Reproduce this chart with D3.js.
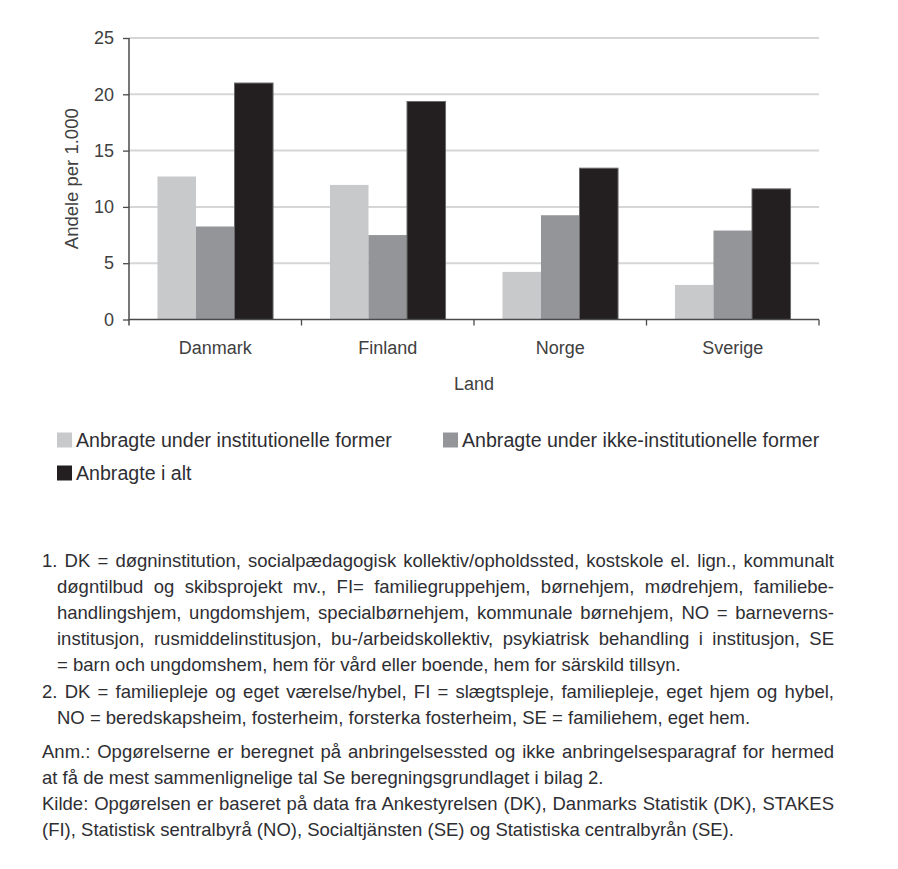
<!DOCTYPE html>
<html><head><meta charset="utf-8">
<script src="https://cdn.jsdelivr.net/npm/d3@7/dist/d3.min.js"></script>
<style>body{margin:0;background:#fff}svg{display:block}</style>
</head><body><svg id="c" width="898" height="869"></svg>
<script>
// ---- data ----
const countries = ["Danmark", "Finland", "Norge", "Sverige"];
const seriesNames = [
  "Anbragte under institutionelle former",
  "Anbragte under ikke-institutionelle former",
  "Anbragte i alt"
];
const institutional    = [12.7, 11.95, 4.23, 3.07];
const nonInstitutional = [8.26, 7.5, 9.26, 7.9];
const total            = [21.0, 19.36, 13.44, 11.6];
const yTicks = [0, 5, 10, 15, 20, 25];
const xTitle = "Land";
const yTitle = "Andele per 1.000";
const seriesColors = ["#c8c9cb", "#939598", "#231f20"];

const note1 = [
  "1. DK = døgninstitution, socialpædagogisk kollektiv/opholdssted, kostskole el. lign., kommunalt",
  "døgntilbud og skibsprojekt mv., FI= familiegruppehjem, børnehjem, mødrehjem, familiebe-",
  "handlingshjem, ungdomshjem, specialbørnehjem, kommunale børnehjem, NO = barneverns-",
  "institusjon, rusmiddelinstitusjon, bu-/arbeidskollektiv, psykiatrisk behandling i institusjon, SE",
  "= barn och ungdomshem, hem för vård eller boende, hem for särskild tillsyn."
];
const note2 = [
  "2. DK = familiepleje og eget værelse/hybel, FI = slægtspleje, familiepleje, eget hjem og hybel,",
  "NO = beredskapsheim, fosterheim, forsterka fosterheim, SE = familiehem, eget hem."
];
const anm = [
  "Anm.: Opgørelserne er beregnet på anbringelsessted og ikke anbringelsesparagraf for hermed",
  "at få de mest sammenlignelige tal Se beregningsgrundlaget i bilag 2."
];
const kilde = [
  "Kilde: Opgørelsen er baseret på data fra Ankestyrelsen (DK), Danmarks Statistik (DK), STAKES",
  "(FI), Statistisk sentralbyrå (NO), Socialtjänsten (SE) og Statistiska centralbyrån (SE)."
];

// ---- layout ----
const svg = d3.select("#c");
const pL = 129, pR = 819, pT = 38, pB = 319.5;
const seriesData = [institutional, nonInstitutional, total];

const x0 = d3.scaleBand().domain(countries).range([pL, pR])
  .paddingInner(0.33).paddingOuter(0.165);
const x1 = d3.scaleBand().domain(seriesNames).range([0, x0.bandwidth()]);
const y = d3.scaleLinear().domain([0, 25]).range([pB, pT]);
const color = d3.scaleOrdinal().domain(seriesNames).range(seriesColors);

const tickFont = "Liberation Sans, Arial, sans-serif";

// gridlines
svg.append("g").selectAll("line").data(yTicks.filter(d => d > 0)).join("line")
  .attr("x1", pL).attr("x2", pR)
  .attr("y1", d => y(d)).attr("y2", d => y(d))
  .attr("stroke", "#d6d6d6").attr("stroke-width", 2);

// bars
const rows = countries.map((c, i) => ({country: c, vals: seriesNames.map((s, j) => ({s, v: seriesData[j][i]}))}));
const g = svg.append("g").selectAll("g").data(rows).join("g")
  .attr("transform", d => `translate(${x0(d.country)},0)`);
g.selectAll("rect").data(d => d.vals).join("rect")
  .attr("x", d => x1(d.s)).attr("width", x1.bandwidth())
  .attr("y", d => y(d.v)).attr("height", d => y(0) - y(d.v))
  .attr("fill", d => color(d.s))
  .attr("stroke", (d, i) => i === 2 ? "#6a6a6a" : "none")
  .attr("stroke-width", 1);

// y axis
const yAxis = d3.axisLeft(y).tickValues(yTicks).tickSize(6).tickPadding(9);
const ya = svg.append("g").attr("transform", `translate(${pL},0)`).call(yAxis);
ya.select(".domain").attr("stroke", "#4a4a4a").attr("stroke-width", 1.5)
  .attr("d", `M0,${pT}V${pB + 6}`);
ya.selectAll(".tick line").attr("stroke", "#4a4a4a").attr("stroke-width", 1.3);
ya.selectAll(".tick text").attr("font-family", tickFont).attr("font-size", 18).attr("fill", "#404040");

// x axis
const xAxis = d3.axisBottom(x0).tickSize(0).tickPadding(22);
const xa = svg.append("g").attr("transform", `translate(0,${pB})`).call(xAxis);
xa.select(".domain").attr("stroke", "#4a4a4a").attr("stroke-width", 1.5)
  .attr("d", `M${pL},0H${pR}`);
xa.selectAll(".tick text").attr("font-family", tickFont).attr("font-size", 18).attr("fill", "#404040");
// boundary ticks between categories
const boundaries = d3.range(1, countries.length + 1).map(i => pL + i * x0.step());
xa.append("g").selectAll("line").data(boundaries).join("line")
  .attr("x1", d => d).attr("x2", d => d).attr("y1", 0).attr("y2", 6)
  .attr("stroke", "#4a4a4a").attr("stroke-width", 1.3);

// axis titles
svg.append("text").attr("x", (pL + pR) / 2).attr("y", 390)
  .attr("text-anchor", "middle").attr("font-family", tickFont).attr("font-size", 18)
  .attr("fill", "#404040").text(xTitle);
svg.append("text").attr("transform", `translate(78,${(pT + pB) / 2}) rotate(-90)`)
  .attr("text-anchor", "middle").attr("font-family", tickFont).attr("font-size", 18.5)
  .attr("fill", "#404040").text(yTitle);

// legend
const narrow = "Liberation Sans, Arial, sans-serif";
const legendPos = [[57, 440], [443, 440], [57, 473]];
const lg = svg.append("g").selectAll("g").data(seriesNames).join("g")
  .attr("transform", (d, i) => `translate(${legendPos[i][0]},${legendPos[i][1]})`);
lg.append("rect").attr("x", 0).attr("y", -7.5).attr("width", 15).attr("height", 15)
  .attr("fill", d => color(d));
lg.append("text").attr("x", 19).attr("y", 6.5).attr("font-family", narrow)
  .attr("font-size", 19.6).attr("fill", "#2e2e33").text(d => d);

// footnotes
const rightEdge = 834;
const lines = [];
const base = [567, 593, 619, 645, 671];
note1.forEach((t, i) => lines.push({t, x: i === 0 ? 42 : 57, y: base[i], j: i < note1.length - 1}));
note2.forEach((t, i) => lines.push({t, x: i === 0 ? 42 : 57, y: [698, 724][i], j: i === 0}));
anm.forEach((t, i) => lines.push({t, x: 42, y: [758, 784][i], j: i === 0}));
kilde.forEach((t, i) => lines.push({t, x: 42, y: [810, 836][i], j: i === 0}));

const ft = svg.append("g").selectAll("text").data(lines).join("text")
  .attr("x", d => d.x).attr("y", d => d.y)
  .attr("font-family", narrow).attr("font-size", 18.5).attr("fill", "#2e2e33")
  .text(d => d.t);
ft.each(function(d) {
  if (!d.j) return;
  const w = this.getComputedTextLength();
  const spaces = (d.t.match(/ /g) || []).length;
  const extra = (rightEdge - d.x - w) / spaces;
  d3.select(this).attr("word-spacing", extra);
});
</script>
</body></html>
